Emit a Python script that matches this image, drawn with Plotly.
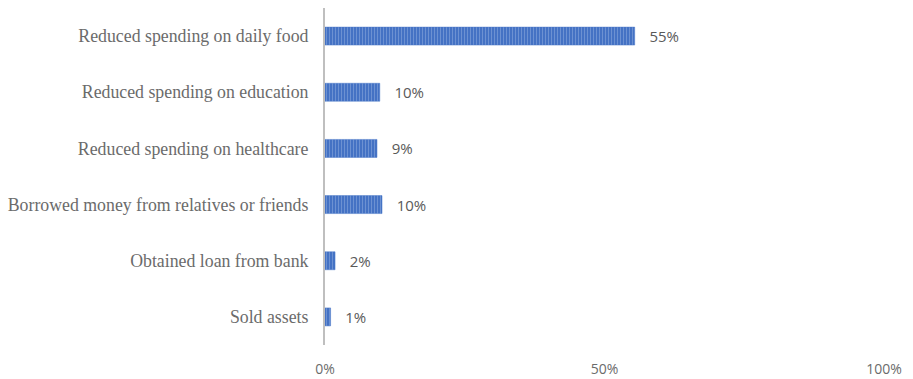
import plotly.graph_objects as go

categories = [
    "Reduced spending on daily food",
    "Reduced spending on education",
    "Reduced spending on healthcare",
    "Borrowed money from relatives or friends",
    "Obtained loan from bank",
    "Sold assets",
]
values = [55.4, 9.8, 9.3, 10.2, 1.8, 1.0]
labels = ["55%", "10%", "9%", "10%", "2%", "1%"]
x_ticks = [0, 50, 100]
x_ticklabels = ["0%", "50%", "100%"]

fig = go.Figure(
    go.Bar(
        y=categories,
        x=values,
        orientation="h",
        width=0.32,
        text=["   " + t for t in labels],
        textposition="outside",
        constraintext="none",
        cliponaxis=False,
        textfont=dict(family="Open Sans, sans-serif", size=15, color="#595959"),
        marker=dict(
            color="#4472C4",
            line=dict(width=0.5, color="#4a78c8"),
            pattern=dict(shape="|", fgcolor="#9db6e3", bgcolor="#4472C4", size=3, solidity=0.3),
        ),
        hoverinfo="skip",
    )
)

fig.update_layout(
    width=913,
    height=379,
    margin=dict(l=325, r=29, t=8, b=34),
    plot_bgcolor="white",
    paper_bgcolor="white",
    showlegend=False,
    bargap=0.68,
)
fig.update_xaxes(
    range=[0, 100],
    tickvals=x_ticks,
    ticktext=x_ticklabels,
    showgrid=False,
    zeroline=False,
    showline=False,
    automargin=False,
    ticks="outside",
    ticklen=11,
    tickcolor="rgba(0,0,0,0)",
    tickfont=dict(family="Open Sans, sans-serif", size=14, color="#6b6b6b"),
)
fig.update_yaxes(
    autorange="reversed",
    showgrid=False,
    zeroline=False,
    showline=True,
    automargin=False,
    linecolor="#bfbfbf",
    linewidth=2,
    ticks="outside",
    ticklen=11,
    tickcolor="rgba(0,0,0,0)",
    tickfont=dict(family="Liberation Serif, Times New Roman, serif", size=17.8, color="#6b6b6b"),
)

fig.write_html("out.html")
